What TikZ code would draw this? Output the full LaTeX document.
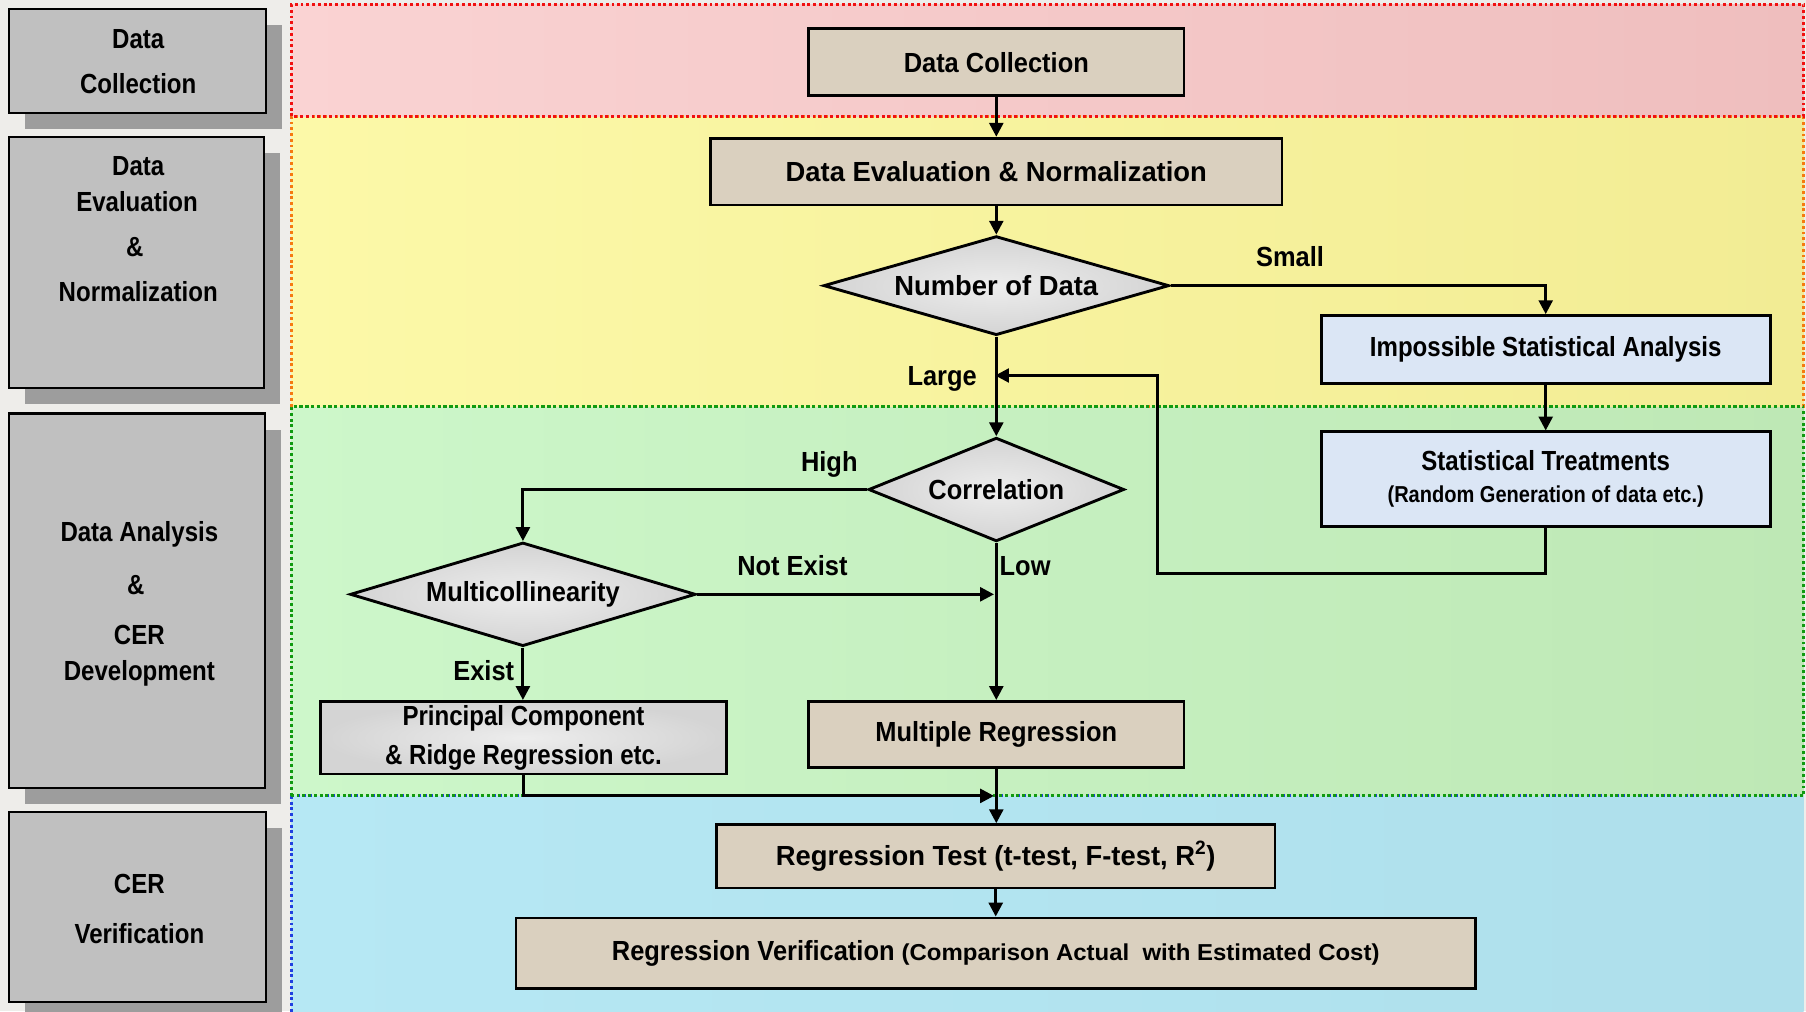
\documentclass[tikz,border=0pt]{standalone}
\usepackage{fontspec}
\setmainfont{Liberation Sans}[FakeStretch=0.92]
\newfontfamily\narrowf{Liberation Sans}[FakeStretch=0.87]
\newfontfamily\widef{Liberation Sans}[FakeStretch=0.99]
\newfontfamily\xwidef{Liberation Sans}[FakeStretch=1.04]
\usetikzlibrary{arrows.meta,shapes.geometric,shadows}
\definecolor{pagebg}{HTML}{EEEDEA}
\definecolor{redL}{HTML}{FAD3D3}
\definecolor{redR}{HTML}{EFBEBE}
\definecolor{yelL}{HTML}{FCF9A8}
\definecolor{yelR}{HTML}{F2EC94}
\definecolor{grnL}{HTML}{CDF7CA}
\definecolor{grnR}{HTML}{BEE8B5}
\definecolor{bluL}{HTML}{B6E8F4}
\definecolor{bluR}{HTML}{AEDFEB}
\definecolor{laneRed}{HTML}{F01010}
\definecolor{laneOrange}{HTML}{F57A10}
\definecolor{laneGreen}{HTML}{109A10}
\definecolor{laneBlue}{HTML}{2040E0}
\definecolor{beige}{HTML}{DAD0BF}
\definecolor{marbleIn}{HTML}{EDEDED}
\definecolor{marbleOut}{HTML}{D4D4D4}
\definecolor{paleblue}{HTML}{DBE6F5}
\definecolor{leftgray}{HTML}{C0C0C0}
\definecolor{shadowgray}{HTML}{9D9D9D}
\begin{document}
\begin{tikzpicture}[x=1pt,y=-1pt,
  txt/.style={font=\bfseries\fontsize{24}{28}\selectfont, inner sep=0pt, text height=17pt, text depth=0pt},
  lefttxt/.style={txt, font=\narrowf\bfseries\fontsize{24}{28}\selectfont},
  flowbox/.style={draw=black, line width=2.5pt, rectangle, inner sep=0pt, font=\bfseries\fontsize{24}{28}\selectfont, align=center},
  beigebox/.style={flowbox, fill=beige},
  blubox/.style={flowbox, fill=paleblue, font=\narrowf\bfseries\fontsize{24}{28}\selectfont},
  marblebox/.style={flowbox, inner color=marbleIn, outer color=marbleOut, font=\narrowf\bfseries\fontsize{24}{28}\selectfont},
  decision/.style={draw=black, line width=2.5pt, diamond, aspect=1, inner sep=0pt, inner color=marbleIn, outer color=marbleOut, font=\bfseries\fontsize{24}{28}\selectfont},
  leftbox/.style={draw=black, line width=2pt, fill=leftgray, rectangle, inner sep=0pt,
     drop shadow={shadow xshift=14pt, shadow yshift=-14pt, fill=shadowgray, opacity=1}},
  lanedots/.style={line width=2.5pt, dash pattern=on 2.5pt off 2.5pt},
  conn/.style={line width=2.5pt, -{Triangle[length=12pt,width=12pt]}}
]
\fill[pagebg] (0,0) rectangle (1568,878);
\useasboundingbox (0,0) rectangle (1568,878);

% swimlanes
\shade[left color=bluL, right color=bluR] (253,691) rectangle (1566,880);
\shade[left color=grnL, right color=grnR] (253,353) rectangle (1566,691);
\shade[left color=yelL, right color=yelR] (253,101) rectangle (1566,353);
\shade[left color=redL, right color=redR] (253,4) rectangle (1566,101);
\draw[lanedots, laneBlue] (253,691) -- (253,880);
\draw[lanedots, laneBlue] (253,691) -- (1566,691);
\draw[lanedots, laneGreen] (253,691) rectangle (1566,353);
\draw[lanedots, laneOrange] (253,353) rectangle (1566,101);
\draw[lanedots, laneGreen, dash phase=2.5pt] (253,353) -- (1566,353);
\draw[lanedots, laneRed] (253,101) rectangle (1566,4);

% left stage boxes
\node[leftbox, minimum width=223pt, minimum height=90pt] (L1) at (119.5,53) {};
\node[leftbox, minimum width=221pt, minimum height=218pt] (L2) at (118.5,228) {};
\node[leftbox, minimum width=222pt, minimum height=325pt] (L3) at (119,521.5) {};
\node[leftbox, minimum width=223pt, minimum height=165pt] (L4) at (119.5,787.5) {};

\node[lefttxt] (l1a) at (120,34) {Data};
\node[lefttxt] (l1b) at (120,73) {Collection};
\node[lefttxt] (l2a) at (120,144) {Data};
\node[lefttxt] (l2b) at (119,175) {Evaluation};
\node[lefttxt] (l2c) at (117,214) {\&};
\node[lefttxt] (l2d) at (120,253) {Normalization};
\node[lefttxt] (l3a) at (121,462) {Data Analysis};
\node[lefttxt] (l3b) at (118,508) {\&};
\node[lefttxt] (l3c) at (121,551) {CER};
\node[lefttxt] (l3d) at (121,582) {Development};
\node[lefttxt] (l4a) at (121,767) {CER};
\node[lefttxt] (l4b) at (121,811) {Verification};

% flow nodes
\node[beigebox, minimum width=326pt, minimum height=58pt] (DC) at (865,54) {Data Collection};
\node[beigebox, minimum width=496pt, minimum height=58pt, font=\widef\bfseries\fontsize{24}{28}\selectfont] (DEN) at (865,149) {Data Evaluation \& Normalization};
\node[decision, minimum width=300pt, minimum height=86pt, font=\widef\bfseries\fontsize{24}{28}\selectfont] (NoD) at (865,248) {\makebox[0pt]{Number of Data}};
\node[blubox, minimum width=390pt, minimum height=59pt] (ISA) at (1342,303.5) {Impossible Statistical Analysis};
\node[blubox, minimum width=390pt, minimum height=82pt] (ST) at (1342,416) {Statistical Treatments\\{\fontsize{20}{28}\selectfont (Random Generation of data etc.)}};
\node[decision, minimum width=222pt, minimum height=90pt] (Corr) at (865,425) {\makebox[0pt]{Correlation}};
\node[decision, minimum width=300pt, minimum height=90pt] (Multi) at (454,516) {\makebox[0pt]{\raisebox{-2pt}{Multicollinearity}}};
\node[marblebox, minimum width=353pt, minimum height=63pt] (PC) at (454.5,640.5) {Principal Component\\[6pt]\& Ridge Regression etc.};
\node[beigebox, minimum width=326pt, minimum height=57pt] (MR) at (865,637.5) {Multiple Regression};
\node[beigebox, minimum width=485pt, minimum height=55pt, font=\widef\bfseries\fontsize{24}{28}\selectfont] (RT) at (864.5,743.5) {Regression Test (t-test, F-test, R\textsuperscript{2})};
\node[beigebox, minimum width=833pt, minimum height=61pt] (RV) at (864.5,827.5) {\raisebox{-2pt}{Regression Verification {\xwidef\fontsize{20}{24}\selectfont (Comparison Actual\ \ with Estimated Cost)}}};

% junction coordinates
\coordinate (jL) at (865,326);
\coordinate (loopA) at (1005,498);
\coordinate (jN) at (865,516);
\coordinate (jM) at (865,691);

% connectors
\draw[conn] (DC) -- (DEN);
\draw[conn] (DEN) -- (NoD);
\draw[conn] (NoD.east) -| (ISA.north);
\draw[conn] (ISA) -- (ST);
\draw[conn, shorten >=-1pt] (ST.south) |- (loopA) |- (jL);
\draw[conn] (NoD.south) -- (Corr.north);
\draw[conn] (Corr.west) -| (Multi.north);
\draw[conn] (Corr.south) -- (MR.north);
\draw[conn, shorten >=2pt] (Multi.east) -- (jN);
\draw[conn] (Multi.south) -- (Multi.south |- PC.north);
\draw[conn, shorten >=2pt] (PC.south) |- (jM);
\draw[conn] (MR.south) -- (MR.south |- RT.north);
\draw[conn] (RT.south -| RV.north) -- (RV.north);

% branch labels
\node[txt] (tSmall) at (1120,223) {Small};
\node[txt] (tLarge) at (818,326) {Large};
\node[txt] (tHigh) at (720,401) {High};
\node[txt] (tLow) at (890,491) {Low};
\node[txt] (tNot) at (688,491) {Not Exist};
\node[txt] (tExist) at (420,582) {Exist};
\end{tikzpicture}
\end{document}
